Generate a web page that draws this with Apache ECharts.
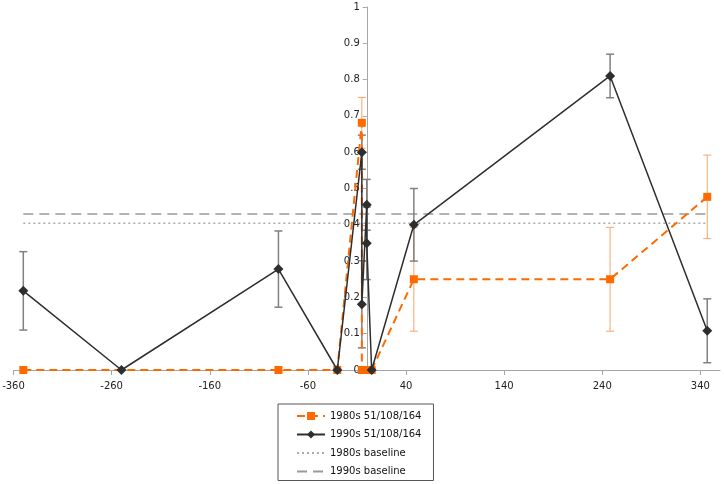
<!DOCTYPE html>
<html><head><meta charset="utf-8">
<script src="https://cdn.jsdelivr.net/npm/echarts@6/dist/echarts.min.js"></script>
<style>html,body{margin:0;padding:0;background:#fff}#c{width:724px;height:484px}</style>
</head><body><div id="c"></div>
<script>
const seriesNames = ['1980s 51/108/164', '1990s 51/108/164', '1980s baseline', '1990s baseline'];
const x1980 = [-350, -90, -30, -5, -5, 0, 5, 48, 248, 347];
const y1980 = [0, 0, 0, 0.681, 0, 0, 0, 0.25, 0.25, 0.477];
const e1980 = [0, 0, 0, 0.07, 0, 0, 0, 0.143, 0.143, 0.115];
const x1990 = [-350, -250, -90, -30, -5, -5, 0, 0, 5, 48, 248, 347];
const y1990 = [0.218, 0, 0.278, 0, 0.60, 0.181, 0.455, 0.349, 0, 0.40, 0.81, 0.108];
const e1990 = [0.108, 0, 0.105, 0, 0.047, 0.12, 0.07, 0.10, 0, 0.10, 0.06, 0.088];
const baseline1980 = 0.404;
const baseline1990 = 0.43;
const xTicks = [-360, -260, -160, -60, 40, 140, 240, 340];
const xMin = -360, xMax = 360, yMin = 0, yMax = 1, yStep = 0.1;

const FONT = 'DejaVu Sans';
const W = 724, GL = 13.5, GR = 4;
const yAxisOffset = -((0 - xMin) / (xMax - xMin)) * (W - GL - GR);
const pts = (xs, ys) => xs.map((x, i) => [x, ys[i]]);
const baseX = [x1990[0], x1990[x1990.length - 1]];

function errSeries(name, xs, ys, es, color, width, z) {
  return {
    name: name, type: 'custom', silent: true, z: z, clip: false,
    data: xs.map((x, i) => [x, ys[i] - es[i], ys[i] + es[i]]).filter(d => d[2] > d[1]),
    encode: { x: 0, y: [1, 2] },
    renderItem: function (params, api) {
      const lo = api.coord([api.value(0), api.value(1)]);
      const hi = api.coord([api.value(0), api.value(2)]);
      const w = 4;
      const style = { stroke: color, lineWidth: width };
      return { type: 'group', children: [
        { type: 'line', shape: { x1: lo[0], y1: lo[1], x2: hi[0], y2: hi[1] }, style: style },
        { type: 'line', shape: { x1: lo[0] - w, y1: lo[1], x2: lo[0] + w, y2: lo[1] }, style: style },
        { type: 'line', shape: { x1: hi[0] - w, y1: hi[1], x2: hi[0] + w, y2: hi[1] }, style: style }
      ] };
    }
  };
}

const chart = echarts.init(document.getElementById('c'), null, { renderer: 'canvas' });
chart.setOption({
  animation: false,
  backgroundColor: '#fff',
  grid: { left: GL, right: GR, top: 7, bottom: 114, containLabel: false, outerBoundsMode: 'none' },
  xAxis: {
    type: 'value', min: xMin, max: xMax,
    axisLine: { onZero: true, lineStyle: { color: '#a6a6a6', width: 1 } },
    axisTick: { show: true, length: 5, customValues: xTicks, lineStyle: { color: '#a6a6a6' } },
    axisLabel: { customValues: xTicks, color: '#222', fontFamily: FONT, fontSize: 10, margin: 11 },
    splitLine: { show: false }
  },
  yAxis: {
    type: 'value', min: yMin, max: yMax, interval: yStep,
    offset: yAxisOffset,
    axisLine: { show: true, onZero: false, lineStyle: { color: '#a6a6a6', width: 1 } },
    axisTick: { show: true, length: 4, lineStyle: { color: '#a6a6a6' } },
    axisLabel: { color: '#222', fontFamily: FONT, fontSize: 10, margin: 7 },
    splitLine: { show: false }
  },
  legend: {
    orient: 'vertical', left: 278, top: 404,
    data: [
      { name: seriesNames[0] },
      { name: seriesNames[1] },
      { name: seriesNames[2], itemStyle: { opacity: 0 } },
      { name: seriesNames[3], itemStyle: { opacity: 0 } }
    ],
    itemWidth: 28, itemHeight: 10, itemGap: 8.5,
    padding: [7, 12, 4, 18],
    borderColor: '#555', borderWidth: 1, borderRadius: 0,
    textStyle: { fontFamily: FONT, fontSize: 10, color: '#111' }
  },
  series: [
    errSeries('err1980', x1980, y1980, e1980, '#f7a468', 1, 1),
    errSeries('err1990', x1990, y1990, e1990, '#808080', 1.5, 2),
    {
      name: seriesNames[2], type: 'line', data: pts(baseX, [baseline1980, baseline1980]),
      symbol: 'none', z: 1,
      lineStyle: { color: '#aaaaaa', width: 1.5, type: [2, 3] }, itemStyle: { color: '#aaaaaa' }
    },
    {
      name: seriesNames[3], type: 'line', data: pts(baseX, [baseline1990, baseline1990]),
      symbol: 'none', z: 1,
      lineStyle: { color: '#999999', width: 1.5, type: [10, 6] }, itemStyle: { color: '#999999' }
    },
    {
      name: seriesNames[0], type: 'line', data: pts(x1980, y1980),
      symbol: 'rect', symbolSize: 8, z: 3,
      lineStyle: { color: '#ff6a00', width: 2, type: [8, 5] },
      itemStyle: { color: '#ff6a00' }
    },
    {
      name: seriesNames[1], type: 'line', data: pts(x1990, y1990),
      symbol: 'diamond', symbolSize: [10, 10], z: 4,
      lineStyle: { color: '#2e2e2e', width: 1.5 },
      itemStyle: { color: '#2e2e2e' }
    }
  ]
});
</script>
</body></html>
